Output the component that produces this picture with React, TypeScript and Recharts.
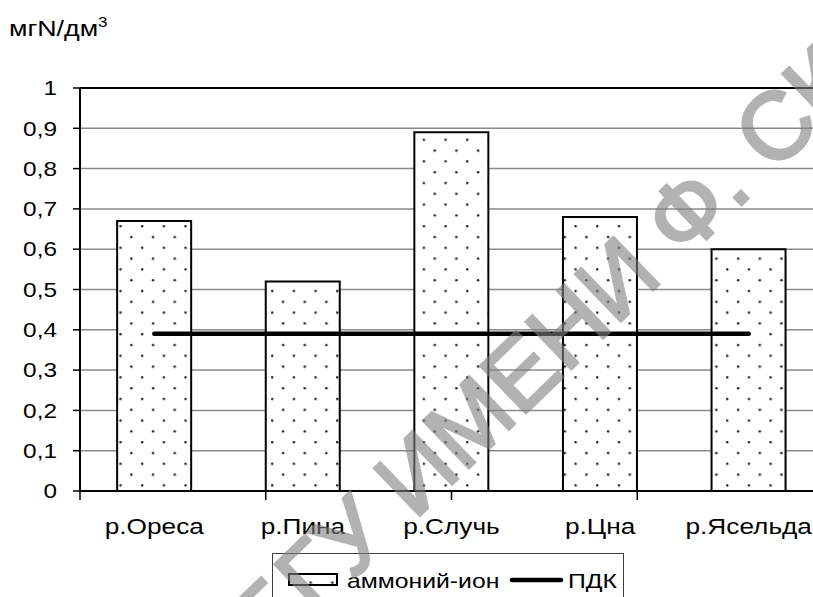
import React from 'react';
import { ComposedChart, Bar, Line, XAxis, YAxis, CartesianGrid, ReferenceLine } from 'recharts';

const rivers = ['р.Ореса', 'р.Пина', 'р.Случь', 'р.Цна', 'р.Ясельда'];
const ammonium = [0.67, 0.52, 0.89, 0.68, 0.6];
const pdk = [0.39, 0.39, 0.39, 0.39, 0.39];
const yTicks = [0, 0.1, 0.2, 0.3, 0.4, 0.5, 0.6, 0.7, 0.8, 0.9, 1];
const edgeTicks = [0, 1, 2, 3, 4, 5];
const seriesNames = ['аммоний-ион', 'ПДК'];
const unitLabel = 'мгN/дм';
const watermark = 'БГУ ИМЕНИ Ф. СКОРИНЫ';

const data = rivers.map((river, i) => ({ river, ammonium: ammonium[i], pdk: pdk[i] }));

const FONT = '"Liberation Sans", Arial, sans-serif';
const STRETCH = 1.22;

const fmt = (v: number) => String(v).replace('.', ',');

const YTick = ({ x, y, payload }: any) => (
  <text
    transform={`translate(${x - 14},${y}) scale(${STRETCH},1)`}
    textAnchor="end"
    dy="0.36em"
    fontSize={20}
    fontFamily={FONT}
    fill="#000"
  >
    {fmt(payload.value)}
  </text>
);

const XTick = ({ x, y, payload }: any) => (
  <text
    transform={`translate(${x},${y + 33}) scale(${STRETCH},1)`}
    textAnchor="middle"
    fontSize={21.5}
    fontFamily={FONT}
    fill="#000"
  >
    {payload.value}
  </text>
);

// tick marks only, no labels
const NoLabel = () => <g />;

function DotPattern({ id, x, y }: { id: string; x: number; y: number }) {
  return (
    <pattern id={id} patternUnits="userSpaceOnUse" width={21.67} height={21.6} x={x} y={y}>
      <rect width={21.67} height={21.6} fill="#fff" />
      <circle cx={1.2} cy={1.2} r={1.25} fill="#222" />
      <circle cx={12.03} cy={12} r={1.25} fill="#222" />
    </pattern>
  );
}

export default function App() {
  return (
    <div
      style={{
        position: 'absolute',
        left: 0,
        top: 0,
        width: 813,
        height: 597,
        overflow: 'hidden',
        background: '#fff',
      }}
    >
      <ComposedChart
        width={830}
        height={597}
        data={data}
        margin={{ top: 88, right: 7, left: 0, bottom: 56 }}
        barCategoryGap="25%"
      >
        <defs>
          <DotPattern id="dots" x={11} y={9} />
        </defs>
        <CartesianGrid xAxisId="b" vertical={false} stroke="#8a8a8a" strokeWidth={1.5} />
        <XAxis
          xAxisId="b"
          dataKey="river"
          height={40}
          axisLine={false}
          tickLine={false}
          tickSize={0}
          tickMargin={0}
          interval={0}
          tick={<XTick />}
        />
        <XAxis
          xAxisId="a"
          type="number"
          domain={[0, 5]}
          ticks={edgeTicks}
          interval={0}
          tick={<NoLabel />}
          tickSize={9}
          height={10}
          axisLine={{ stroke: '#000', strokeWidth: 2 }}
          tickLine={{ stroke: '#000', strokeWidth: 1.5 }}
        />
        <YAxis
          width={80}
          domain={[0, 1]}
          ticks={yTicks}
          interval={0}
          tickSize={7}
          axisLine={{ stroke: '#000', strokeWidth: 2 }}
          tickLine={{ stroke: '#000', strokeWidth: 1.5 }}
          tick={<YTick />}
        />
        <ReferenceLine xAxisId="b" y={1} stroke="#000" strokeWidth={2} />
        <Bar
          xAxisId="b"
          dataKey="ammonium"
          name={seriesNames[0]}
          fill="url(#dots)"
          stroke="#000"
          strokeWidth={2}
          isAnimationActive={false}
        />
        <Line
          xAxisId="b"
          dataKey="pdk"
          name={seriesNames[1]}
          stroke="#000"
          strokeWidth={4.5}
          strokeLinecap="round"
          dot={false}
          activeDot={false}
          isAnimationActive={false}
        />
      </ComposedChart>

      {/* legend */}
      <div
        style={{
          position: 'absolute',
          left: 272,
          top: 553,
          width: 352,
          height: 60,
          border: '1px solid #404040',
          background: '#fff',
          boxSizing: 'border-box',
        }}
      >
        <svg width={352} height={60} style={{ position: 'absolute', left: -1, top: -1 }}>
          <defs>
            <DotPattern id="legdots" x={5} y={-4} />
          </defs>
          <rect x={17} y={21} width={48} height={11} fill="url(#legdots)" stroke="#000" strokeWidth={2} />
          <text
            transform={`translate(75,35) scale(${STRETCH},1)`}
            fontSize={20.3}
            fontFamily={FONT}
            fill="#000"
          >
            {seriesNames[0]}
          </text>
          <line x1={240} y1={27} x2={289} y2={27} stroke="#000" strokeWidth={4.5} strokeLinecap="round" />
          <text
            transform={`translate(296,35) scale(${STRETCH},1)`}
            fontSize={20.3}
            fontFamily={FONT}
            fill="#000"
          >
            {seriesNames[1]}
          </text>
        </svg>
      </div>

      {/* title and watermark */}
      <svg
        width={813}
        height={597}
        style={{ position: 'absolute', left: 0, top: 0, pointerEvents: 'none' }}
      >
        <text transform={`translate(9,36) scale(${STRETCH},1)`} fontSize={22} fontFamily={FONT} fill="#000">
          {unitLabel}
          <tspan fontSize={14} dy={-9}>3</tspan>
        </text>
        <g opacity={0.6}>
          <text
            transform="translate(270,660) rotate(-44)"
            fontSize={95}
            fontFamily={FONT}
            fill="#808080"
            stroke="#808080"
            strokeWidth={3}
          >
            {watermark}
          </text>
        </g>
      </svg>
    </div>
  );
}
